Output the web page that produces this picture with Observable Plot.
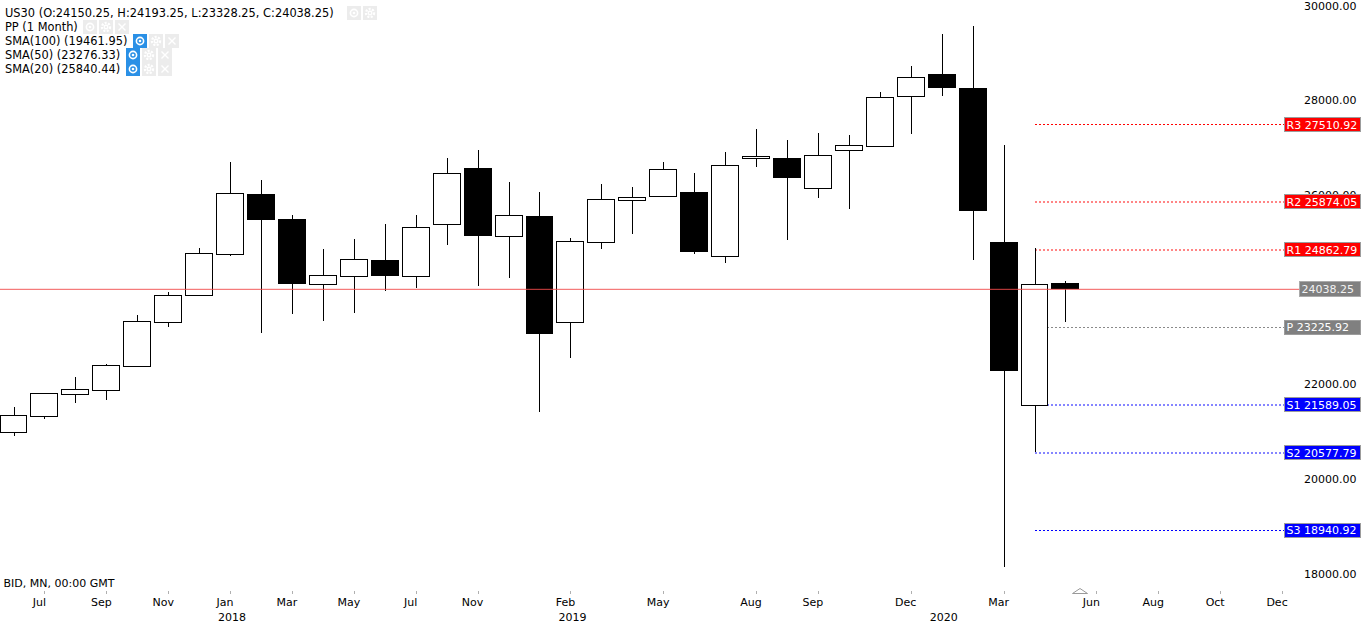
<!DOCTYPE html>
<html><head><meta charset="utf-8">
<script src="https://cdn.jsdelivr.net/npm/d3@7"></script>
<script src="https://cdn.jsdelivr.net/npm/@observablehq/plot@0.6"></script>
<style>
body{margin:0;background:#fff;}
#wrap{position:relative;width:1362px;height:626px;overflow:hidden;font-family:"DejaVu Sans",Verdana,sans-serif;}
#legend{position:absolute;left:0;top:0;}
.row{position:absolute;left:5px;font-size:11.4px;color:#000;white-space:nowrap;line-height:14px;height:14px;}
.ic{display:inline-block;width:14px;height:14px;vertical-align:top;margin-left:2px;}
.ic svg{display:block;}
</style></head><body>
<div id="wrap"><div id="chart"></div><div id="legend"></div></div>
<script>
// ---- data (monthly US30 candles) ----
const candleIndex = d3.range(1, 36);
const open  = [21006,21344,21809,21894,22401,23331,23887,24768,26042,25493,24134,24309,24641,24309,25402,26585,25148,25571,23331,25021,25909,25994,26078,24726,26797,26797,26163,26966,27050,28107,28572,28272,25011,21562,24150.25];
const high  = [21535,21840,22169,22450,23479,23965,24901,26712,26332,25592,24874,25091,25402,25592,26797,26966,26296,26084,25106,26254,26190,26718,26480,26923,27416,27177,27325,27283,28191,28741,29417,29584,27078,24895,24193.25];
const low   = [20934,21281,21632,21695,22395,23238,23880,24732,23111,23513,23365,23521,23999,24049,24971,24104,24273,21442,22583,24886,25203,25990,24781,24590,26619,25076,25964,25731,27045,27317,28120,24656,18153,20584,23328.25];
const close = [21366,21830,21915,22422,23352,23901,24789,26057,25499,24147,24324,24662,24324,25338,26480,25161,25592,23090,25043,25930,25972,26564,24823,26649,26839,26387,26860,27071,28086,28508,28289,25696,22302,24130,24038.25];

const tickIndex  = [2,4,6,8,10,12,14,16,19,22,25,27,30,33,36,38,40,42];
const tickLabels = ["Jul","Sep","Nov","Jan","Mar","May","Jul","Nov","Feb","May","Aug","Sep","Dec","Mar","Jun","Aug","Oct","Dec"];
const yearIndex  = [8,19,31];
const yearLabels = ["2018","2019","2020"];
const yTickValues = [18000,20000,22000,24000,26000,28000,30000];

const pivotNames  = ["R3","R2","R1","P","S1","S2","S3"];
const pivotValues = [27510.92,25874.05,24862.79,23225.92,21589.05,20577.79,18940.92];
const pivotStartIndex = 34;
const lastPrice = 24038.25;

const legendTexts = ["US30 (O:24150.25, H:24193.25, L:23328.25, C:24038.25)","PP (1 Month)","SMA(100) (19461.95)","SMA(50) (23276.33)","SMA(20) (25840.44)"];
const footerText = "BID, MN, 00:00 GMT";

// ---- layout helpers ----
const X0 = 13.5, XS = 30.94;
const xAt = px => 1 + (px - X0) / XS;
const Y_TOP = 6.71, Y_BOT = 574.55;
const ppu = (Y_BOT - Y_TOP) / 12000;
const yAt = py => 18000 + (Y_BOT - py) / ppu;
const dv = px => px / ppu;

const candles = candleIndex.map((i, k) => ({i, o: open[k], h: high[k], l: low[k], c: close[k]}));
const up = candles.filter(d => d.c >= d.o);
const down = candles.filter(d => d.c < d.o);
const ticks = tickIndex.map((i, k) => ({i, label: tickLabels[k]}));
const years = yearIndex.map((i, k) => ({i, label: yearLabels[k]}));

const pivotStyle = {
  R3: {line: "#ff0000", w: 1, box: "#ff0000"},
  R2: {line: "#ff8585", w: 2, box: "#ff0000"},
  R1: {line: "#ff8585", w: 2, box: "#ff0000"},
  P:  {line: "#8a8a8a", w: 1, box: "#808080"},
  S1: {line: "#8585ff", w: 2, box: "#0000ff"},
  S2: {line: "#8585ff", w: 2, box: "#0000ff"},
  S3: {line: "#0000ff", w: 1, box: "#0000ff"}
};
const pivots = pivotNames.map((n, k) => ({n, v: pivotValues[k], ...pivotStyle[n]}));
const fmt = d3.format(".2f");

const plot = Plot.plot({
  width: 1362, height: 626,
  marginTop: 0, marginBottom: 0, marginLeft: 0, marginRight: 0,
  x: {type: "linear", domain: [1, 42], range: [X0, X0 + 41 * XS], axis: null},
  y: {type: "linear", domain: [18000, 30000], range: [Y_BOT, Y_TOP], axis: null},
  style: {fontFamily: "DejaVu Sans, Verdana, sans-serif", fontSize: "11px", background: "#fff"},
  marks: [
    // right axis labels
    Plot.text(yTickValues, {y: d => d, text: d => fmt(d), frameAnchor: "right", dx: -6, dy: -1, textAnchor: "end", fill: "#000", fontSize: 11}),
    // pivot lines
    ...pivots.map(p => Plot.ruleY([p], {y: "v", x1: pivotStartIndex, x2: xAt(1284), stroke: p.line, strokeWidth: p.w, strokeDasharray: "2,2", shapeRendering: "crispEdges"})),
    // wicks
    Plot.ruleX(candles, {x: "i", y1: "l", y2: "h", stroke: "#000", strokeWidth: 1, shapeRendering: "crispEdges"}),
    // bodies
    Plot.rect(up, {x1: d => d.i - 0.5, x2: d => d.i + 0.5, y1: "o", y2: "c", insetLeft: 2, insetRight: 2, fill: "#fff", stroke: "#000", strokeWidth: 1, shapeRendering: "crispEdges"}),
    Plot.rect(down, {x1: d => d.i - 0.5, x2: d => d.i + 0.5, y1: "o", y2: "c", insetLeft: 2, insetRight: 2, fill: "#000", stroke: "#000", strokeWidth: 1, shapeRendering: "crispEdges"}),
    // current price line
    Plot.ruleY([lastPrice], {y: d => d, x1: xAt(0), x2: xAt(1299), stroke: "#f24a4a", strokeOpacity: 0.9, strokeWidth: 1}),
    // pivot label boxes
    Plot.rect(pivots, {x1: xAt(1284), x2: xAt(1360), y1: d => d.v - dv(7), y2: d => d.v + dv(7), fill: d => d.box, stroke: "#9c9c9c", strokeWidth: 1, shapeRendering: "crispEdges"}),
    Plot.text(pivots, {x: xAt(1286), y: "v", text: d => d.n + " " + fmt(d.v), textAnchor: "start", fill: "#fff", fontSize: 11}),
    // current price box
    Plot.rect([lastPrice], {x1: xAt(1299), x2: xAt(1360), y1: d => d - dv(7.5), y2: d => d + dv(7.5), fill: "#808080", stroke: "#aaaaaa", strokeWidth: 1, shapeRendering: "crispEdges"}),
    Plot.text([lastPrice], {x: xAt(1301), y: d => d, text: d => fmt(d), textAnchor: "start", fill: "#f2f2f2", fontSize: 11}),
    // bottom axis
    Plot.ruleX(ticks, {x: "i", y1: yAt(591), y2: yAt(594), stroke: "#b0b0b0", shapeRendering: "crispEdges"}),
    Plot.text(ticks, {x: "i", text: "label", frameAnchor: "bottom", dy: -21, dx: -5.5, fill: "#000", fontSize: 11}),
    Plot.text(years, {x: "i", text: "label", frameAnchor: "bottom", dy: -6, dx: 1.5, fill: "#000", fontSize: 11}),
    Plot.text([footerText], {text: d => d, frameAnchor: "bottom-left", dx: 3, dy: -40, textAnchor: "start", fill: "#000", fontSize: 11}),
    // scroll marker triangle
    () => {
      const g = d3.create("svg:polygon")
        .attr("points", "1072.5,593.5 1080,588.5 1087.5,593.5")
        .attr("fill", "none").attr("stroke", "#9a9a9a").attr("stroke-width", 1);
      return g.node();
    }
  ]
});
document.getElementById("chart").appendChild(plot);

// ---- legend (HTML overlay) ----
function icon(kind, active) {
  const bg = active ? "#2a90e6" : "#ececec";
  let inner = "";
  if (kind === "eye") inner = `<circle cx="7" cy="7" r="3.6" fill="none" stroke="#fff" stroke-width="1.6"/><circle cx="7" cy="7" r="1.3" fill="#fff"/>`;
  if (kind === "gear") inner = `<circle cx="7" cy="7" r="4" fill="none" stroke="#fff" stroke-width="2.4" stroke-dasharray="2,1.4"/><circle cx="7" cy="7" r="2.4" fill="#fff"/><circle cx="7" cy="7" r="1.1" fill="#ececec"/>`;
  if (kind === "x") inner = `<path d="M3.5,3.5 L10.5,10.5 M10.5,3.5 L3.5,10.5" stroke="#fff" stroke-width="1.4"/>`;
  return `<span class="ic"><svg width="14" height="14"><rect width="14" height="14" fill="${bg}"/>${inner}</svg></span>`;
}
const legendIcons = [
  {gap: 11, icons: [["eye", false], ["gear", false]]},
  {gap: 3, icons: [["eye", false], ["gear", false], ["x", false]]},
  {gap: 4, icons: [["eye", true], ["gear", false], ["x", false]]},
  {gap: 4, icons: [["eye", true], ["gear", false], ["x", false]]},
  {gap: 4, icons: [["eye", true], ["gear", false], ["x", false]]}
];
const legend = document.getElementById("legend");
legendTexts.forEach((t, k) => {
  const row = document.createElement("div");
  row.className = "row";
  row.style.top = (6 + 14 * k) + "px";
  const spec = legendIcons[k];
  row.innerHTML = `<span>${t}</span><span style="display:inline-block;width:${spec.gap}px"></span>` + spec.icons.map(([a, b]) => icon(a, b)).join("");
  legend.appendChild(row);
});
</script>
</body></html>
